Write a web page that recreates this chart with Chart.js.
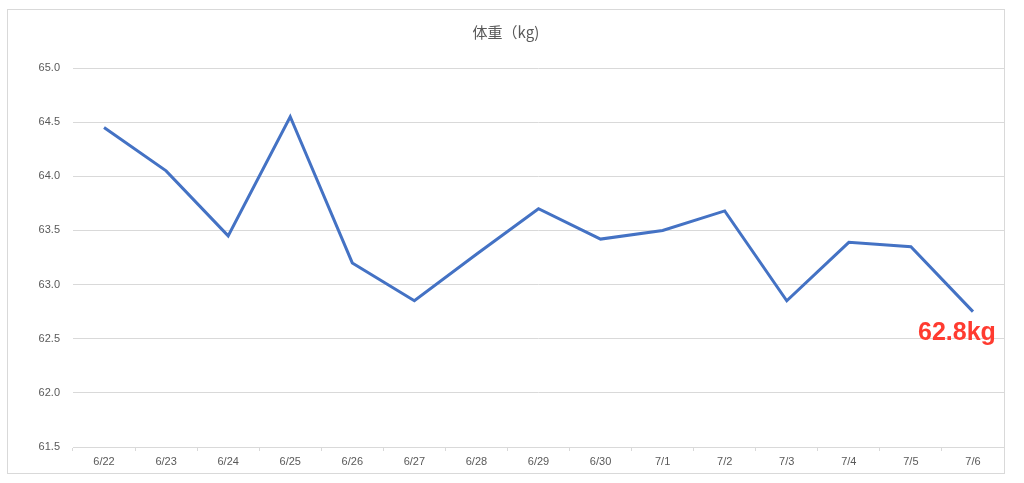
<!DOCTYPE html>
<html>
<head>
<meta charset="utf-8">
<script src="https://cdn.jsdelivr.net/npm/chart.js@4"></script>
<style>
    html, body { margin: 0; padding: 0; background: #fff; }
    #wrap {
        position: absolute;
        left: 7px; top: 9px;
        width: 996px; height: 463px;
        border: 1px solid #d9d9d9;
    }
</style>
</head>
<body>
<div id="wrap"><canvas id="weightChart"></canvas></div>
<script>
const dates = ['6/22', '6/23', '6/24', '6/25', '6/26', '6/27', '6/28', '6/29', '6/30', '7/1', '7/2', '7/3', '7/4', '7/5', '7/6'];
const weights = [64.45, 64.05, 63.45, 64.55, 63.2, 62.85, 63.28, 63.7, 63.42, 63.5, 63.68, 62.85, 63.39, 63.35, 62.75];
const yTicks = [61.5, 62.0, 62.5, 63.0, 63.5, 64.0, 64.5, 65.0];
const lastLabel = '62.8kg';

// 最後の値の横に赤い注記を描く
const lastValueLabel = {
    id: 'lastValueLabel',
    afterDatasetsDraw(chart) {
        const { ctx, scales } = chart;
        const i = weights.length - 1;
        const x = scales.x.getPixelForValue(i) - 16;
        const y = scales.y.getPixelForValue(weights[i]) + 28;
        ctx.save();
        ctx.font = 'bold 25px "Liberation Sans", Arial, sans-serif';
        ctx.fillStyle = '#ff3b30';
        ctx.textAlign = 'center';
        ctx.textBaseline = 'alphabetic';
        ctx.fillText(lastLabel, x, y);
        ctx.restore();
    }
};

const ctx = document.getElementById('weightChart').getContext('2d');
new Chart(ctx, {
    type: 'line',
    data: {
        labels: dates,
        datasets: [{
            label: '体重',
            data: weights,
            borderColor: '#4472c4',
            borderWidth: 3,
            pointRadius: 0,
            tension: 0,
            fill: false
        }]
    },
    options: {
        responsive: true,
        maintainAspectRatio: false,
        animation: false,
        layout: { padding: { left: 0, right: 0, top: 0, bottom: 0 } },
        plugins: {
            legend: { display: false },
            tooltip: { enabled: false },
            title: {
                display: true,
                text: '体重（kg)',
                color: '#595959',
                font: { family: '"Noto Sans CJK JP", sans-serif', size: 15, weight: 'normal' },
                padding: { top: 13, bottom: 27 }
            }
        },
        scales: {
            x: {
                offset: true,
                grid: {
                    offset: true,
                    drawOnChartArea: false,
                    drawTicks: true,
                    tickLength: 4,
                    color: '#d9d9d9'
                },
                border: { display: true, color: '#d9d9d9' },
                ticks: {
                    color: '#595959',
                    font: { family: '"Liberation Sans", Arial, sans-serif', size: 11 },
                    padding: 4,
                    maxRotation: 0,
                    autoSkip: false
                },
                afterFit: scale => { scale.height = 26; }
            },
            y: {
                min: yTicks[0],
                max: yTicks[yTicks.length - 1],
                afterBuildTicks: scale => { scale.ticks = yTicks.map(v => ({ value: v })); },
                grid: { color: '#d9d9d9', drawTicks: false },
                border: { display: false },
                ticks: {
                    color: '#595959',
                    font: { family: '"Liberation Sans", Arial, sans-serif', size: 11 },
                    padding: 13,
                    callback: v => v.toFixed(1)
                },
                afterFit: scale => { scale.width = 65; }
            }
        }
    },
    plugins: [lastValueLabel]
});
</script>
</body>
</html>
